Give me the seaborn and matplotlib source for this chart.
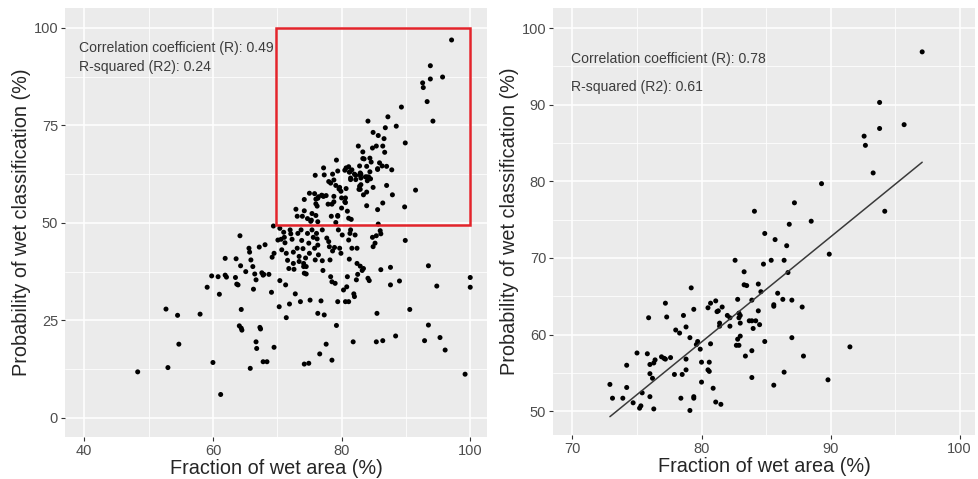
import numpy as np
import pandas as pd
import matplotlib
matplotlib.use("Agg")
import matplotlib.pyplot as plt
from matplotlib.patches import Rectangle
from matplotlib.ticker import MultipleLocator
import seaborn as sns

# estilo tipo ggplot
sns.set_theme(style="darkgrid", rc={
    "axes.facecolor": "#EBEBEB",
    "grid.color": "white",
})
plt.rcParams["font.family"] = ["Liberation Sans", "DejaVu Sans"]

# puntos dentro de la zona seleccionada (panel derecho)
wet_area_sel = [97.1, 93.8, 93.8, 95.7, 92.6, 92.7, 93.3, 94.2, 89.3, 87.2,
                88.5, 84.1, 86.8, 84.9, 85.7, 86.6, 89.9, 82.6, 85.4, 86.4,
                84.8, 83.3, 86.7, 83.3, 83.5, 84.4, 79.2, 77.2, 80.7, 81.1,
                80.5, 81.6, 82.8, 83.9, 84.6, 85.9, 86.3, 87.0, 87.8, 85.6,
                85.6, 79.4, 81.3, 81.2, 82.0, 82.9, 83.0, 84.4, 78.6, 77.3,
                75.9, 82.9, 82.2, 81.4, 83.0, 83.7, 83.9, 84.2, 84.5, 81.4,
                82.2, 84.0, 78.8, 78.0, 78.3, 79.1, 83.0, 82.8, 84.9, 79.7,
                80.7, 79.6, 82.7, 82.9, 79.9, 91.5, 83.9, 83.4, 87.9, 87.0,
                75.0, 75.8, 76.9, 77.1, 77.2, 77.6, 76.4, 76.3, 80.0, 80.6,
                74.2, 76.0, 78.8, 77.9, 78.5, 78.8, 80.5, 80.6, 76.0, 76.2,
                83.9, 86.4, 89.8, 74.2, 72.9, 80.0, 80.9, 85.6, 75.4, 73.1,
                73.9, 76.0, 78.4, 79.4, 79.4, 81.1, 81.5, 74.7, 75.3, 75.2,
                76.3, 79.1]
prob_wet_sel = [96.9, 90.3, 86.9, 87.4, 85.9, 84.7, 81.1, 76.1, 79.7, 77.2,
                74.8, 76.1, 74.4, 73.2, 72.4, 71.6, 70.5, 69.7, 69.7, 69.7,
                69.2, 68.2, 68.1, 66.5, 66.4, 66.6, 66.1, 64.1, 64.1, 64.4,
                63.5, 63.6, 64.6, 64.5, 65.6, 65.4, 64.6, 64.5, 63.6, 63.9,
                63.7, 63.3, 63.1, 63.0, 62.5, 62.8, 62.5, 63.1, 62.5, 62.3,
                62.2, 62.2, 62.2, 61.5, 61.5, 61.8, 61.8, 61.8, 61.3, 61.1,
                61.1, 60.8, 61.0, 60.6, 60.2, 59.6, 59.8, 59.4, 59.1, 59.1,
                58.8, 58.7, 58.6, 58.6, 58.1, 58.4, 57.9, 57.2, 57.2, 59.6,
                57.6, 57.5, 57.1, 56.9, 56.8, 57.0, 56.7, 56.3, 56.4, 56.4,
                56.0, 56.1, 56.8, 54.8, 54.8, 55.4, 55.4, 55.2, 54.9, 54.3,
                54.4, 55.1, 54.1, 53.1, 53.5, 53.8, 53.0, 53.4, 52.4, 51.7,
                51.7, 51.9, 51.7, 51.9, 51.7, 51.2, 50.9, 51.1, 50.7, 50.4,
                50.3, 50.1]

# resto de los puntos (fuera de la zona)
wet_area_rest = [48.3, 52.7, 53.0, 54.5, 54.7, 58.0, 59.1, 59.8, 60.0, 60.8,
                 61.0, 61.2, 61.9, 61.9, 62.1, 63.5, 63.6, 63.7, 63.9, 64.2,
                 64.3, 64.4, 64.1, 64.4, 64.5, 65.1, 65.6, 65.7, 65.9, 66.2,
                 66.3, 66.5, 66.7, 66.7, 66.8, 65.8, 67.2, 67.3, 67.4, 67.6,
                 67.8, 67.9, 67.8, 68.4, 68.1, 68.7, 69.1, 69.4, 69.5, 69.2,
                 69.5, 70.4, 70.1, 70.6, 70.7, 70.4, 70.3, 71.0, 71.1, 71.2,
                 71.4, 71.3, 71.4, 71.6, 71.8, 71.9, 72.0, 72.1, 72.3, 72.5,
                 72.5, 72.6, 72.8, 73.1, 73.2, 73.4, 73.4, 73.6, 73.7, 73.8,
                 74.0, 74.1, 74.1, 74.2, 74.5, 74.5, 74.4, 74.2, 74.9, 74.7,
                 74.9, 75.0, 75.1, 75.4, 75.6, 75.8, 75.9, 76.1, 76.2, 76.3,
                 76.4, 76.3, 76.6, 76.8, 77.0, 77.0, 77.1, 77.3, 77.6, 77.7,
                 78.0, 78.1, 78.2, 78.3, 78.5, 78.5, 78.6, 78.9, 79.0, 79.2,
                 79.4, 79.5, 79.7, 79.9, 80.1, 80.3, 80.6, 80.8, 80.9, 81.1,
                 81.1, 81.2, 81.3, 81.4, 81.6, 81.8, 81.9, 82.0, 82.1, 82.3,
                 82.4, 82.5, 82.9, 83.2, 83.4, 84.1, 84.3, 84.8, 84.9, 85.2,
                 85.4, 85.5, 85.4, 85.7, 86.0, 86.1, 86.1, 86.4, 87.6, 87.6,
                 88.4, 89.0, 89.9, 90.6, 93.5, 93.5, 92.9, 94.8, 95.3, 96.1,
                 99.2, 100.0, 100.0, 82.4]
prob_wet_rest = [11.8, 27.9, 12.9, 26.3, 18.9, 26.6, 33.5, 36.4, 14.2, 36.2,
                 31.7, 6.0, 40.9, 36.6, 36.1, 36.0, 40.8, 34.3, 34.1, 46.7,
                 39.0, 27.8, 23.6, 23.0, 22.5, 37.5, 43.5, 42.5, 40.5, 38.8,
                 33.0, 36.9, 35.4, 19.5, 17.8, 12.7, 43.8, 23.2, 22.8, 37.2,
                 36.6, 36.8, 14.4, 14.4, 44.4, 36.8, 32.2, 49.2, 18.1, 41.2,
                 42.2, 48.6, 45.6, 45.8, 43.1, 35.2, 28.5, 47.6, 46.3, 44.9,
                 42.2, 34.1, 25.7, 40.4, 38.3, 29.2, 48.2, 47.2, 45.8, 42.5,
                 39.6, 38.1, 31.8, 43.5, 47.3, 41.4, 40.1, 29.8, 48.2, 45.5,
                 43.4, 39.6, 38.8, 37.1, 36.9, 38.8, 41.0, 13.8, 14.0, 47.3,
                 44.8, 42.2, 30.2, 48.2, 46.3, 43.5, 40.5, 47.3, 45.9, 44.3,
                 41.8, 26.8, 16.4, 30.0, 48.2, 40.3, 37.8, 26.4, 18.9, 46.1,
                 45.2, 43.9, 40.5, 36.2, 34.9, 14.8, 42.8, 43.7, 34.5, 23.7,
                 29.8, 48.2, 43.5, 42.2, 46.9, 32.8, 29.8, 33.6, 36.2, 45.6,
                 29.8, 40.7, 47.3, 48.2, 43.5, 19.5, 31.8, 31.1, 46.9, 35.4,
                 39.6, 36.8, 38.9, 37.8, 38.3, 35.8, 35.2, 46.3, 43.9, 44.8,
                 46.7, 26.8, 19.5, 49.7, 48.0, 47.2, 38.0, 19.8, 38.6, 34.1,
                 21.0, 35.1, 45.5, 27.8, 39.0, 23.8, 19.8, 33.8, 20.6, 17.4,
                 11.2, 36.0, 33.5, 43.5]

df_sel = pd.DataFrame({"wet_area": wet_area_sel, "prob_wet": prob_wet_sel})
df_all = pd.DataFrame({"wet_area": wet_area_sel + wet_area_rest,
                       "prob_wet": prob_wet_sel + prob_wet_rest})

fig = plt.figure(figsize=(9.79, 4.79), dpi=100)
ax1 = fig.add_axes([0.0664, 0.0877, 0.431, 0.8956])
ax2 = fig.add_axes([0.565, 0.0919, 0.431, 0.891])

txt_col = "#4D4D4D"


def estilo(ax, xlim, ylim, xmaj, ymaj):
    ax.set_xlim(*xlim)
    ax.set_ylim(*ylim)
    ax.xaxis.set_major_locator(MultipleLocator(xmaj))
    ax.yaxis.set_major_locator(MultipleLocator(ymaj))
    ax.xaxis.set_minor_locator(MultipleLocator(xmaj / 2))
    ax.yaxis.set_minor_locator(MultipleLocator(ymaj / 2))
    ax.grid(which="major", color="white", linewidth=1.1)
    ax.grid(which="minor", color="white", linewidth=0.55)
    ax.tick_params(which="major", length=3, width=0.8, color="#333333",
                   labelsize=10.5, labelcolor=txt_col, pad=2,
                   bottom=True, left=True)
    ax.tick_params(which="minor", length=0)
    for s in ax.spines.values():
        s.set_visible(False)
    ax.set_xlabel("Fraction of wet area (%)", fontsize=14.3, labelpad=1)
    ax.set_ylabel("Probability of wet classification (%)", fontsize=14.3,
                  labelpad=2)


# panel izquierdo: todos los puntos
sns.scatterplot(data=df_all, x="wet_area", y="prob_wet", ax=ax1,
                color="black", s=13, edgecolor="none", linewidth=0)
ax1.add_patch(Rectangle((69.85, 49.5), 100 - 69.85, 100 - 49.5,
                        fill=False, edgecolor="#E3242B", linewidth=1.8,
                        zorder=5))
estilo(ax1, (37.0, 102.6), (-4.9, 105.1), 20, 25)
ax1.text(39.2, 94.9, "Correlation coefficient (R): 0.49", fontsize=10.1,
         color="#3C3C3C", va="center", ha="left")
ax1.text(39.2, 90.0, "R-squared (R2): 0.24", fontsize=10.1,
         color="#3C3C3C", va="center", ha="left")

# panel derecho: zona seleccionada con ajuste lineal
sns.scatterplot(data=df_sel, x="wet_area", y="prob_wet", ax=ax2,
                color="black", s=13, edgecolor="none", linewidth=0)
sns.regplot(data=df_sel, x="wet_area", y="prob_wet", ax=ax2, scatter=False,
            ci=None, truncate=True, line_kws={"color": "#3A3A3A", "linewidth": 1.1})
estilo(ax2, (68.5, 101.2), (46.9, 102.6), 10, 10)
ax2.text(69.9, 95.95, "Correlation coefficient (R): 0.78", fontsize=10.1,
         color="#3C3C3C", va="center", ha="left")
ax2.text(69.9, 92.3, "R-squared (R2): 0.61", fontsize=10.1,
         color="#3C3C3C", va="center", ha="left")

fig.savefig("out.png", dpi=100)
